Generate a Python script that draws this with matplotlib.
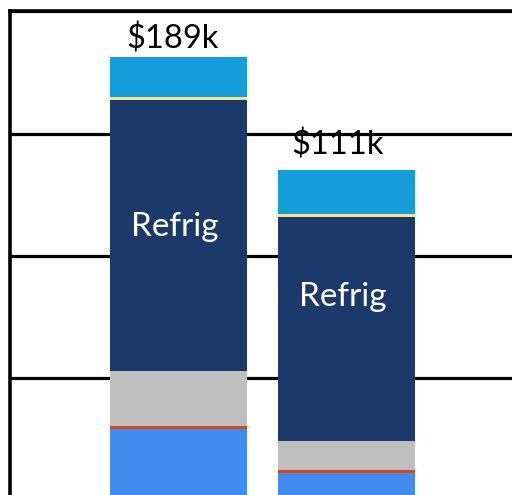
import matplotlib.pyplot as plt
import numpy as np

# Stacked segments, bottom to top (units: $k on the axis scale)
bars = ["A", "B"]
seg_blue = [29.3, 11.4]
seg_orange = [1.2, 1.2]
seg_gray = [22.5, 11.9]
seg_refrig = [110.8, 91.6]
seg_yellow = [1.2, 1.2]
seg_lightblue = [16.3, 18.0]
totals = ["$189k", "$111k"]
refrig_label = "Refrig"

segments = [seg_blue, seg_orange, seg_gray, seg_refrig, seg_yellow, seg_lightblue]
colors = ["#418BF0", "#E0440E", "#BFBFBF", "#1B3A6B", "#FFE082", "#149DDB"]

fig = plt.figure(figsize=(5.12, 4.95), dpi=100)
# axes runs past the right and bottom edges of the picture
ax = fig.add_axes([9.5 / 512, -0.01172, 530.5 / 512, 0.98849])

x = np.arange(len(bars))
width = 0.8155
bottom = np.zeros(len(bars))
refrig_mid = None
for vals, col in zip(segments, colors):
    ax.bar(x, vals, width, bottom=bottom, color=col, zorder=3)
    if vals is seg_refrig:
        refrig_mid = bottom + np.array(vals) / 2
    bottom = bottom + np.array(vals)

ax.set_xlim(-1.006, 2.152)
ax.set_ylim(0, 200)
ax.set_yticks([50, 100, 150, 200])
ax.yaxis.grid(True, color="black", linewidth=2.3, zorder=2)
ax.set_axisbelow(False)
ax.tick_params(left=False, bottom=False, labelleft=False, labelbottom=False)
for side in ["left", "top"]:
    ax.spines[side].set_linewidth(2.6)
    ax.spines[side].set_color("black")
ax.spines["right"].set_visible(False)
ax.spines["bottom"].set_visible(False)

# Total labels above bars (drawn under the gridlines)
total_offsets = [(-6, 9), (-9, 15)]
for i, lab in enumerate(totals):
    ax.annotate(lab, (x[i], bottom[i]), xytext=total_offsets[i], textcoords="offset pixels",
                ha="center", va="baseline", fontsize=23.5, family="Lato", zorder=1)

# Segment labels inside the navy block
refrig_offsets = [(-4, 0), (-4, 23)]
for i in range(len(bars)):
    ax.annotate(refrig_label, (x[i], refrig_mid[i]), xytext=refrig_offsets[i],
                textcoords="offset pixels", ha="center", va="baseline",
                fontsize=24, family="Lato", color="white", zorder=4)

plt.savefig("out.png", dpi=100)
plt.close(fig)
